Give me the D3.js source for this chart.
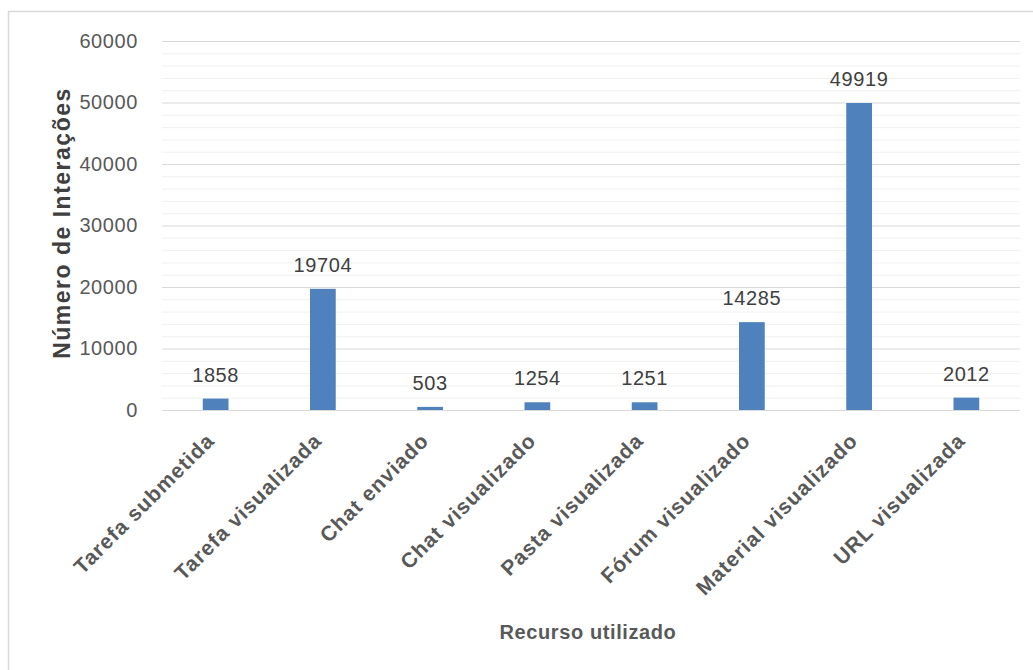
<!DOCTYPE html>
<html><head><meta charset="utf-8">
<script src="https://cdn.jsdelivr.net/npm/d3@7"></script>
<style>body{margin:0;background:#fff}svg{display:block}</style>
</head><body>
<script>
const categories = ["Tarefa submetida","Tarefa visualizada","Chat enviado","Chat visualizado","Pasta visualizada","Fórum visualizado","Material visualizado","URL visualizada"];
const values = [1858,19704,503,1254,1251,14285,49919,2012];
const yTicks = [0,10000,20000,30000,40000,50000,60000];
const yMinorTicks = d3.range(0,60001,2000);

const W=1033,H=670;
const svg=d3.select("body").append("svg").attr("width",W).attr("height",H);
const font="'Liberation Sans', Arial, sans-serif";
// frame (left and top edges)
svg.append("path").attr("d","M8.5,670 V11.5 H1033").attr("fill","none").attr("stroke","#d9d9d9").attr("stroke-width",1.5);

const m={left:162,right:1020,top:41,bottom:410};
const x=d3.scaleBand().domain(categories).range([m.left,m.right]).paddingInner(0.76).paddingOuter(0.38);
const y=d3.scaleLinear().domain([0,60000]).range([m.bottom,m.top]);

// minor gridlines
svg.append("g").selectAll("line").data(yMinorTicks.filter(v=>v%10000!==0)).join("line")
 .attr("x1",m.left).attr("x2",m.right).attr("y1",d=>y(d)+0.5).attr("y2",d=>y(d)+0.5)
 .attr("stroke","#f0f0f0").attr("stroke-width",1);
// major gridlines
svg.append("g").selectAll("line").data(yTicks).join("line")
 .attr("x1",m.left).attr("x2",m.right).attr("y1",d=>y(d)+0.5).attr("y2",d=>y(d)+0.5)
 .attr("stroke","#d9d9d9").attr("stroke-width",1.2);

// y axis labels
const ya=svg.append("g").attr("transform",`translate(${m.left},0)`)
 .call(d3.axisLeft(y).tickValues(yTicks).tickSize(0).tickPadding(24).tickFormat(d3.format("d")));
ya.select(".domain").remove();
ya.selectAll("text").attr("font-family",font).attr("font-size",20).attr("letter-spacing","0.6px").attr("fill","#595959");

// bars
svg.append("g").selectAll("rect").data(values).join("rect")
 .attr("x",(d,i)=>x(categories[i])).attr("width",x.bandwidth())
 .attr("y",d=>y(d)).attr("height",d=>y(0)-y(d)).attr("fill","#4f81bd");

// data labels
svg.append("g").selectAll("text").data(values).join("text")
 .attr("x",(d,i)=>x(categories[i])+x.bandwidth()/2).attr("y",d=>y(d)-17)
 .attr("text-anchor","middle").attr("font-family",font).attr("font-size",20).attr("letter-spacing","0.6px").attr("fill","#404040")
 .text(d=>d);

// x axis labels
const xa=svg.append("g").attr("transform",`translate(0,${m.bottom})`)
 .call(d3.axisBottom(x).tickSize(0));
xa.select(".domain").remove();
xa.selectAll("text").attr("font-family",font).attr("font-size",21).attr("letter-spacing","1px").attr("font-weight","bold").attr("fill","#595959")
 .attr("text-anchor","end").attr("dy",null).attr("y",0)
 .attr("transform","translate(0,32) rotate(-45)");

// axis titles
svg.append("text").attr("transform","translate(70,223) rotate(-90)").attr("text-anchor","middle")
 .attr("font-family",font).attr("font-size",23).attr("letter-spacing","1.5px").attr("font-weight","bold").attr("fill","#404040").text("Número de Interações");
svg.append("text").attr("x",588).attr("y",639).attr("text-anchor","middle")
 .attr("font-family",font).attr("font-size",20).attr("letter-spacing","0.6px").attr("font-weight","bold").attr("fill","#595959").text("Recurso utilizado");
</script>
</body></html>
